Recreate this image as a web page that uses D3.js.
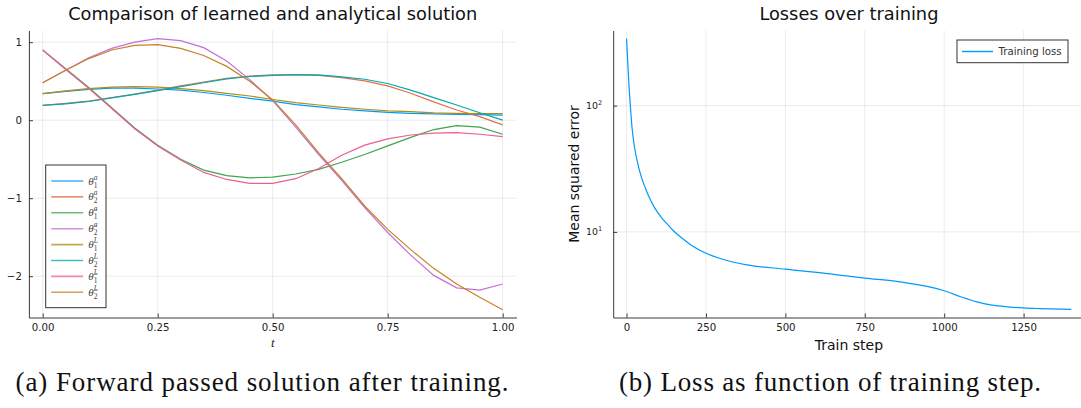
<html>

    <head>
        <script src="https://d3js.org/d3.v7.min.js"></script>

        <style>
            body { margin: 0; background: white; }
            svg { display: block; }
        </style>
    </head>

    <body>

        <svg id="svgContainer"></svg>

        <script>

            /* ---- datos ---- */

            var tValues = [0, 0.05, 0.1, 0.15, 0.2, 0.25, 0.3, 0.35, 0.4, 0.45, 0.5,
                           0.55, 0.6, 0.65, 0.7, 0.75, 0.8, 0.85, 0.9, 0.95, 1.0];

            var theta1A  = [0.34, 0.37, 0.395, 0.41, 0.41, 0.40, 0.385, 0.355, 0.32, 0.28, 0.245,
                            0.20, 0.17, 0.14, 0.12, 0.10, 0.088, 0.08, 0.075, 0.072, 0.065];
            var theta2A  = [0.19, 0.215, 0.245, 0.29, 0.335, 0.385, 0.44, 0.49, 0.535, 0.565, 0.58,
                            0.585, 0.575, 0.545, 0.505, 0.44, 0.345, 0.235, 0.13, 0.045, -0.06];
            var dTheta1A = [0.90, 0.66, 0.42, 0.16, -0.10, -0.32, -0.50, -0.64, -0.71, -0.74, -0.73,
                            -0.69, -0.63, -0.54, -0.44, -0.33, -0.22, -0.12, -0.07, -0.09, -0.18];
            var dTheta2A = [0.48, 0.64, 0.80, 0.92, 1.00, 1.045, 1.02, 0.93, 0.76, 0.52, 0.25,
                            -0.09, -0.44, -0.77, -1.12, -1.44, -1.73, -1.99, -2.15, -2.18, -2.10];
            var theta1L  = [0.34, 0.375, 0.405, 0.425, 0.43, 0.425, 0.405, 0.38, 0.345, 0.31, 0.265,
                            0.225, 0.195, 0.165, 0.14, 0.12, 0.11, 0.095, 0.088, 0.085, 0.083];
            var theta2L  = [0.19, 0.21, 0.24, 0.285, 0.33, 0.38, 0.43, 0.48, 0.53, 0.56, 0.575,
                            0.585, 0.58, 0.555, 0.525, 0.47, 0.385, 0.29, 0.195, 0.095, 0.0];
            var dTheta1L = [0.90, 0.65, 0.41, 0.15, -0.11, -0.33, -0.51, -0.67, -0.76, -0.81, -0.81,
                            -0.75, -0.62, -0.45, -0.32, -0.24, -0.19, -0.165, -0.16, -0.18, -0.21];
            var dTheta2L = [0.48, 0.64, 0.79, 0.90, 0.96, 0.97, 0.92, 0.83, 0.69, 0.50, 0.26,
                            -0.06, -0.42, -0.75, -1.10, -1.40, -1.66, -1.90, -2.10, -2.27, -2.43];

            var seriesValues = [theta1A, theta2A, dTheta1A, dTheta2A, theta1L, theta2L, dTheta1L, dTheta2L];
            var seriesDot = [false, false, true, true, false, false, true, true];
            var seriesSub = ["1", "2", "1", "2", "1", "2", "1", "2"];
            var seriesSup = ["a", "a", "a", "a", "L", "L", "L", "L"];

            var xTicksLeft = [0, 0.25, 0.5, 0.75, 1.0];
            var xTickLabelsLeft = ["0.00", "0.25", "0.50", "0.75", "1.00"];
            var yTicksLeft = [-2, -1, 0, 1];
            var yTickLabelsLeft = ["\u22122", "\u22121", "0", "1"];

            var lossSteps  = [0, 4, 8, 12, 17, 25, 35, 45, 60, 75, 90, 110, 130, 146, 175, 205, 250,
                              300, 379, 500, 620, 750, 850, 900, 950, 1000, 1050, 1100, 1150, 1200, 1250, 1300, 1400];
            var lossValues = [340, 215, 140, 100, 68, 47, 35, 28, 22, 18, 15.3, 13, 11.4, 10.3, 8.9, 7.8, 6.78,
                              6.1, 5.48, 5.07, 4.72, 4.30, 4.05, 3.88, 3.68, 3.42, 3.08, 2.80, 2.63, 2.55, 2.50, 2.47, 2.43];

            var xTicksRight = [0, 250, 500, 750, 1000, 1250];
            var yTicksRight = [10, 100];
            var yTickExpRight = ["1", "2"];

            /* paleta por defecto de Plots.jl */
            var palette = ["#009AFA", "#E36F47", "#3EA44E", "#C371D2", "#AC8E18", "#00AAAE", "#ED5E93", "#C68225"];

            var svg = null;
            var W = 1081, H = 408;
            var axisColor = "#3a3a3a";
            var sans = "'DejaVu Sans', sans-serif";
            var serif = "'Liberation Serif', 'DejaVu Serif', serif";

            window.onload = function() {
                svg = d3.select("#svgContainer").attr("width", W).attr("height", H);
                drawLeft();
                drawRight();
                drawCaptions();
            }

            function gridAndAxes(x, y, box, xt, xl, yt, yl) {
                /* lineas de la grilla */
                svg.append("g").selectAll("line").data(xt).enter().append("line")
                    .attr("x1", d => x(d)).attr("x2", d => x(d))
                    .attr("y1", box.top).attr("y2", box.bottom)
                    .attr("stroke", "#000").attr("stroke-opacity", 0.08);
                svg.append("g").selectAll("line").data(yt).enter().append("line")
                    .attr("x1", box.left).attr("x2", box.right)
                    .attr("y1", d => y(d)).attr("y2", d => y(d))
                    .attr("stroke", "#000").attr("stroke-opacity", 0.08);

                /* ejes abajo e izquierda, ticks hacia adentro */
                var gx = svg.append("g").attr("transform", "translate(0," + box.bottom + ")")
                    .call(d3.axisBottom(x).tickValues(xt).tickSize(-4).tickSizeOuter(0).tickPadding(6)
                        .tickFormat((d, i) => xl[i]));
                var gy = svg.append("g").attr("transform", "translate(" + box.left + ",0)")
                    .call(d3.axisLeft(y).tickValues(yt).tickSize(-4).tickSizeOuter(0).tickPadding(7)
                        .tickFormat((d, i) => yl ? yl[i] : ""));
                [gx, gy].forEach(g => {
                    g.select(".domain").attr("stroke", axisColor);
                    g.selectAll(".tick line").attr("stroke", axisColor);
                    g.selectAll("text").attr("fill", "#222").style("font-family", sans).style("font-size", "10.2px");
                });
                return gy;
            }

            function drawLeft() {
                var box = {left: 28.9, right: 516.5, top: 30.5, bottom: 317.5};
                var x = d3.scaleLinear().domain([-0.03, 1.03]).range([box.left, box.right]);
                var y = d3.scaleLinear().domain([-2.53, 1.15]).range([box.bottom, box.top]);

                gridAndAxes(x, y, box, xTicksLeft, xTickLabelsLeft, yTicksLeft, yTickLabelsLeft);

                /* las 8 curvas */
                var line = d3.line().x((d, i) => x(tValues[i])).y(d => y(d));
                svg.append("g").selectAll("path").data(seriesValues).enter().append("path")
                    .attr("d", d => line(d))
                    .attr("fill", "none")
                    .attr("stroke", (d, i) => palette[i])
                    .attr("stroke-width", 1.2);

                /* titulo y etiqueta del eje x */
                svg.append("text").attr("x", (box.left + box.right) / 2).attr("y", 19.5)
                    .attr("text-anchor", "middle").style("font-family", sans).style("font-size", "17.8px")
                    .attr("fill", "#111").text("Comparison of learned and analytical solution");
                svg.append("text").attr("x", (box.left + box.right) / 2).attr("y", 347)
                    .attr("text-anchor", "middle").style("font-family", serif).style("font-style", "italic")
                    .style("font-size", "13px").attr("fill", "#222").text("t");

                /* leyenda */
                var lg = {x: 45.7, y: 165, w: 60.3, h: 142.7, row: 15.9, first: 16};
                svg.append("rect").attr("x", lg.x).attr("y", lg.y).attr("width", lg.w).attr("height", lg.h)
                    .attr("fill", "white").attr("stroke", "#333").attr("stroke-width", 1);
                var items = svg.append("g").selectAll("g").data(seriesValues).enter().append("g")
                    .attr("transform", (d, i) => "translate(" + lg.x + "," + (lg.y + lg.first + i * lg.row) + ")");
                items.append("line").attr("x1", 5.5).attr("x2", 37.5).attr("y1", 0).attr("y2", 0)
                    .attr("stroke", (d, i) => palette[i]).attr("stroke-width", 1.6).attr("stroke-opacity", 0.75);
                items.append("text").attr("x", 42.5).attr("y", 3.5)
                    .style("font-family", serif).style("font-style", "italic").style("font-size", "11px")
                    .attr("fill", "#444").text((d, i) => seriesDot[i] ? "\u03b8\u0307" : "\u03b8");
                items.append("text").attr("x", 48).attr("y", -1.5)
                    .style("font-family", serif).style("font-style", "italic").style("font-size", "7.5px")
                    .attr("fill", "#444").text((d, i) => seriesSup[i]);
                items.append("text").attr("x", 48).attr("y", 6.5)
                    .style("font-family", serif).style("font-size", "7.5px")
                    .attr("fill", "#444").text((d, i) => seriesSub[i]);
            }

            function drawRight() {
                var box = {left: 613.2, right: 1084.6, top: 30.5, bottom: 317.5};
                var x = d3.scaleLinear().domain([-42, 1442]).range([box.left, box.right]);
                var y = d3.scaleLog().domain([Math.pow(10, 0.322), Math.pow(10, 2.595)]).range([box.bottom, box.top]);

                gridAndAxes(x, y, box, xTicksRight, xTicksRight.map(d => String(d)), yTicksRight, null);

                /* etiquetas 10^n */
                var lab = svg.append("g").selectAll("text").data(yTicksRight).enter().append("text")
                    .attr("x", box.left - 11).attr("y", d => y(d) + 3.5)
                    .attr("text-anchor", "end").style("font-family", sans).style("font-size", "9.4px")
                    .attr("fill", "#222");
                lab.append("tspan").text("10");
                lab.append("tspan").attr("dy", -4).style("font-size", "6.5px").text((d, i) => yTickExpRight[i]);

                /* curva de perdida */
                var line = d3.line().x((d, i) => x(lossSteps[i])).y(d => y(d)).curve(d3.curveMonotoneX);
                svg.append("path").datum(lossValues).attr("d", line)
                    .attr("fill", "none").attr("stroke", palette[0]).attr("stroke-width", 1.2);

                /* titulos */
                svg.append("text").attr("x", (box.left + box.right) / 2).attr("y", 19.5)
                    .attr("text-anchor", "middle").style("font-family", sans).style("font-size", "17.8px")
                    .attr("fill", "#111").text("Losses over training");
                svg.append("text").attr("x", (box.left + box.right) / 2).attr("y", 350)
                    .attr("text-anchor", "middle").style("font-family", sans).style("font-size", "14px")
                    .attr("fill", "#111").text("Train step");
                svg.append("text").attr("transform", "translate(579,174) rotate(-90)")
                    .attr("text-anchor", "middle").style("font-family", sans).style("font-size", "14px")
                    .attr("fill", "#111").text("Mean squared error");

                /* leyenda */
                svg.append("rect").attr("x", 957).attr("y", 40).attr("width", 111).attr("height", 22.7)
                    .attr("fill", "white").attr("stroke", "#333").attr("stroke-width", 1);
                svg.append("line").attr("x1", 962).attr("x2", 993).attr("y1", 51.5).attr("y2", 51.5)
                    .attr("stroke", palette[0]).attr("stroke-width", 1.4);
                svg.append("text").attr("x", 998.5).attr("y", 55)
                    .style("font-family", sans).style("font-size", "10.2px").attr("fill", "#333")
                    .text("Training loss");
            }

            function drawCaptions() {
                /* pies de figura, estilo LaTeX; ancho ajustado al original */
                svg.append("text").attr("x", 262).attr("y", 391).attr("text-anchor", "middle")
                    .attr("textLength", 493).attr("lengthAdjust", "spacing")
                    .style("font-family", serif).style("font-size", "27px").attr("fill", "#111")
                    .text("(a) Forward passed solution after training.");
                svg.append("text").attr("x", 830).attr("y", 391).attr("text-anchor", "middle")
                    .attr("textLength", 422).attr("lengthAdjust", "spacing")
                    .style("font-family", serif).style("font-size", "27px").attr("fill", "#111")
                    .text("(b) Loss as function of training step.");
            }

        </script>

    </body>

</html>
